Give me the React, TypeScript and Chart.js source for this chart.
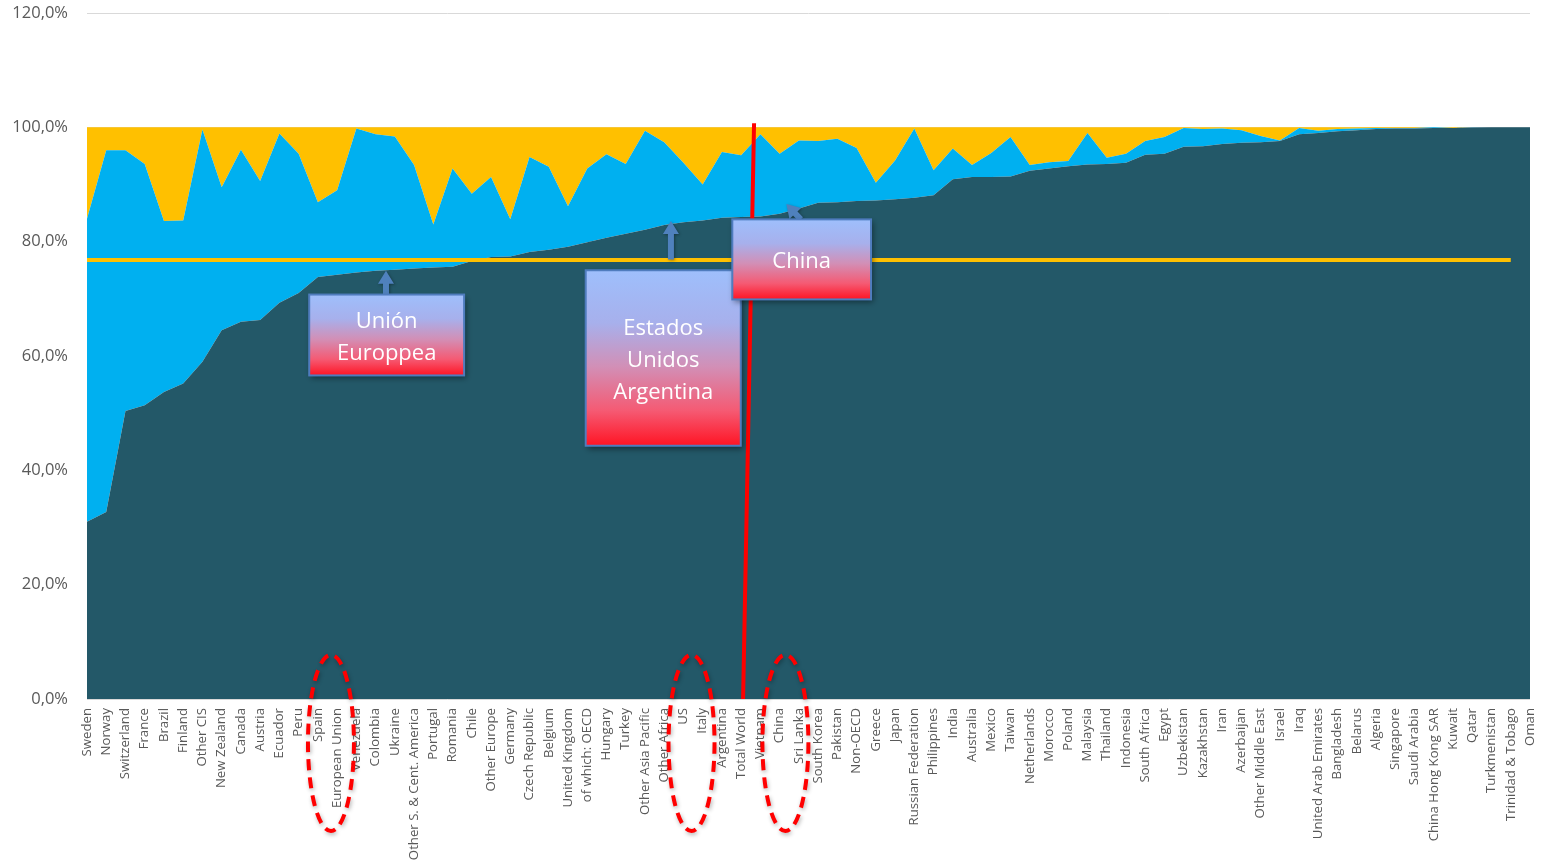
import React, { useEffect, useRef } from "react";
import { Chart, registerables } from "chart.js";

Chart.register(...registerables);

// Countries and regions, ordered by the share of the bottom series
const categories = [
  "Sweden", "Norway", "Switzerland", "France", "Brazil", "Finland", "Other CIS",
  "New Zealand", "Canada", "Austria", "Ecuador", "Peru", "Spain", "European Union",
  "Venezuela", "Colombia", "Ukraine", "Other S. & Cent. America", "Portugal", "Romania",
  "Chile", "Other Europe", "Germany", "Czech Republic", "Belgium", "United Kingdom",
  "of which: OECD", "Hungary", "Turkey", "Other Asia Pacific", "Other Africa", "US",
  "Italy", "Argentina", "Total World", "Vietnam", "China", "Sri Lanka", "South Korea",
  "Pakistan", "Non-OECD", "Greece", "Japan", "Russian Federation", "Philippines",
  "India", "Australia", "Mexico", "Taiwan", "Netherlands", "Morocco", "Poland",
  "Malaysia", "Thailand", "Indonesia", "South Africa", "Egypt", "Uzbekistan",
  "Kazakhstan", "Iran", "Azerbaijan", "Other Middle East", "Israel", "Iraq",
  "United Arab Emirates", "Bangladesh", "Belarus", "Algeria", "Singapore",
  "Saudi Arabia", "China Hong Kong SAR", "Kuwait", "Qatar", "Turkmenistan",
  "Trinidad & Tobago", "Oman",
];

// Bottom series (dark teal), % of total
const seriesBottom = [
  31.0, 32.7, 50.4, 51.4, 53.7, 55.2, 59.0, 64.5, 66.0, 66.3, 69.3, 71.0, 73.8, 74.2,
  74.6, 74.9, 75.1, 75.3, 75.5, 75.6, 76.6, 77.3, 77.4, 78.2, 78.6, 79.1, 79.9, 80.7,
  81.4, 82.1, 82.9, 83.4, 83.7, 84.2, 84.3, 84.4, 84.9, 85.8, 86.8, 86.9, 87.1, 87.2,
  87.4, 87.7, 88.1, 90.9, 91.3, 91.3, 91.4, 92.4, 92.8, 93.2, 93.5, 93.6, 93.8, 95.2,
  95.4, 96.6, 96.7, 97.1, 97.3, 97.4, 97.6, 98.8, 99.0, 99.3, 99.5, 99.7, 99.8, 99.8,
  99.9, 99.9, 99.95, 100.0, 100.0, 100.0,
];

// Middle series (light blue), % of total
const seriesMiddle = [
  53.0, 63.3, 45.6, 42.2, 29.9, 28.5, 40.6, 25.0, 30.1, 24.3, 29.6, 24.4, 13.1, 14.8,
  25.2, 23.9, 23.3, 18.1, 7.5, 17.2, 11.8, 14.0, 6.5, 16.6, 14.5, 7.1, 12.9, 14.6,
  12.2, 17.3, 14.5, 10.4, 6.3, 11.5, 10.8, 14.4, 10.5, 11.9, 10.8, 11.1, 9.3, 3.1,
  6.8, 12.1, 4.4, 5.4, 2.1, 4.2, 6.9, 1.0, 1.1, 0.9, 5.5, 1.1, 1.6, 2.4,
  2.9, 3.3, 3.0, 2.7, 2.2, 1.1, 0.1, 1.1, 0.4, 0.4, 0.3, 0.2, 0.1, 0.1,
  0.1, 0.0, 0.05, 0.0, 0.0, 0.0,
];

// Top series (yellow), % of total
const seriesTop = [
  16.0, 4.0, 4.0, 6.4, 16.4, 16.3, 0.4, 10.5, 3.9, 9.4, 1.1, 4.6, 13.1, 11.0,
  0.2, 1.2, 1.6, 6.6, 17.0, 7.2, 11.6, 8.7, 16.1, 5.2, 6.9, 13.8, 7.2, 4.7,
  6.4, 0.6, 2.6, 6.2, 10.0, 4.3, 4.9, 1.2, 4.6, 2.3, 2.4, 2.0, 3.6, 9.7,
  5.8, 0.2, 7.5, 3.7, 6.6, 4.5, 1.7, 6.6, 6.1, 5.9, 1.0, 5.3, 4.6, 2.4,
  1.7, 0.1, 0.3, 0.2, 0.5, 1.5, 2.3, 0.1, 0.6, 0.3, 0.2, 0.1, 0.1, 0.1,
  0.0, 0.1, 0.0, 0.0, 0.0, 0.0,
];

// Reference level drawn as a horizontal line (%), up to the second-to-last category
const referenceLevel = 76.8;

const yTicks = [0, 20, 40, 60, 80, 100, 120];

const COLOR_BOTTOM = "#235868";
const COLOR_MIDDLE = "#00B0F0";
const COLOR_TOP = "#FFC000";
const ARROW_BLUE = "#4F81BD";
const LABEL_GREY = "#595959";
const FONT = '"Open Sans", "DejaVu Sans", sans-serif';

type Pt = { i: number; v: number };

const callouts: { from: Pt; to: Pt; lines: string[] }[] = [
  { from: { i: 11.55, v: 70.75 }, to: { i: 19.6, v: 56.6 }, lines: ["Unión", "Europpea"] },
  { from: { i: 25.92, v: 75.0 }, to: { i: 33.98, v: 44.3 }, lines: ["Estados", "Unidos", "Argentina"] },
  { from: { i: 33.54, v: 83.9 }, to: { i: 40.75, v: 69.9 }, lines: ["China"] },
];

const arrows: { base: Pt; tip: Pt }[] = [
  { base: { i: 15.54, v: 70.75 }, tip: { i: 15.54, v: 74.9 } },
  { base: { i: 30.35, v: 76.9 }, tip: { i: 30.35, v: 83.6 } },
  { base: { i: 37.1, v: 83.9 }, tip: { i: 36.35, v: 86.6 } },
];

// Vertical marker near the "Total World" category
const markerLine = { bottom: { i: 34.1, v: 0 }, top: { i: 34.67, v: 100.7 } };

// Dashed rings around groups of axis labels (centre index)
const labelRings = [12.68, 31.42, 36.3];

function drawArrow(ctx: CanvasRenderingContext2D, x1: number, y1: number, x2: number, y2: number) {
  const ang = Math.atan2(y2 - y1, x2 - x1);
  const len = Math.hypot(x2 - x1, y2 - y1);
  const head = Math.min(13, len);
  const shaftEnd = len - head;
  ctx.save();
  ctx.translate(x1, y1);
  ctx.rotate(ang);
  ctx.shadowColor = "rgba(0,0,0,0.35)";
  ctx.shadowBlur = 3;
  ctx.shadowOffsetX = 1;
  ctx.shadowOffsetY = 1;
  ctx.fillStyle = ARROW_BLUE;
  ctx.beginPath();
  if (shaftEnd > 0) {
    ctx.rect(0, -3, shaftEnd + 1, 6);
  }
  ctx.moveTo(shaftEnd, -8);
  ctx.lineTo(len, 0);
  ctx.lineTo(shaftEnd, 8);
  ctx.closePath();
  ctx.fill();
  ctx.restore();
}

const overlayPlugin = {
  id: "overlay",
  afterDatasetsDraw(chart: any) {
    const ctx: CanvasRenderingContext2D = chart.ctx;
    const xs = chart.scales.x;
    const ys = chart.scales.y;
    const px = (p: Pt) => [xs.getPixelForValue(p.i), ys.getPixelForValue(p.v)];

    // red vertical marker
    const [bx, by] = px(markerLine.bottom);
    const [tx, ty] = px(markerLine.top);
    ctx.save();
    ctx.strokeStyle = "#FF0000";
    ctx.lineWidth = 4;
    ctx.beginPath();
    ctx.moveTo(bx, by);
    ctx.lineTo(tx, ty);
    ctx.stroke();
    ctx.restore();

    // arrows
    arrows.forEach((a) => {
      const [x1, y1] = px(a.base);
      const [x2, y2] = px(a.tip);
      drawArrow(ctx, x1, y1, x2, y2);
    });

    // callout boxes
    callouts.forEach((c) => {
      const [x1, y1] = px(c.from);
      const [x2, y2] = px(c.to);
      ctx.save();
      const g = ctx.createLinearGradient(0, y1, 0, y2);
      g.addColorStop(0, "#9EBFFC");
      g.addColorStop(0.3, "#A7B0EC");
      g.addColorStop(0.55, "#D28FB6");
      g.addColorStop(0.8, "#F55A73");
      g.addColorStop(1, "#FF1424");
      ctx.shadowColor = "rgba(0,0,0,0.45)";
      ctx.shadowBlur = 6;
      ctx.shadowOffsetX = 2;
      ctx.shadowOffsetY = 3;
      ctx.fillStyle = g;
      ctx.fillRect(x1, y1, x2 - x1, y2 - y1);
      ctx.shadowColor = "transparent";
      ctx.strokeStyle = "#4F7CBE";
      ctx.lineWidth = 2;
      ctx.strokeRect(x1, y1, x2 - x1, y2 - y1);
      ctx.fillStyle = "#FFFFFF";
      ctx.font = `22px ${FONT}`;
      ctx.textAlign = "center";
      ctx.textBaseline = "middle";
      const cx = (x1 + x2) / 2;
      const cy = (y1 + y2) / 2 + 2.5;
      const lh = 32;
      c.lines.forEach((t, k) => {
        ctx.fillText(t, cx, cy + (k - (c.lines.length - 1) / 2) * lh);
      });
      ctx.restore();
    });

    // dashed rings around axis labels
    const area = chart.chartArea;
    labelRings.forEach((i) => {
      const cx = xs.getPixelForValue(i);
      const cy = area.bottom + 44;
      ctx.save();
      ctx.shadowColor = "rgba(0,0,0,0.3)";
      ctx.shadowBlur = 4;
      ctx.shadowOffsetX = 1;
      ctx.shadowOffsetY = 2;
      ctx.strokeStyle = "#FF0000";
      ctx.lineWidth = 4;
      ctx.setLineDash([11, 7]);
      ctx.beginPath();
      ctx.ellipse(cx, cy, 23, 88, 0, 0, Math.PI * 2);
      ctx.stroke();
      ctx.restore();
    });
  },
};

export default function App() {
  const canvasRef = useRef<HTMLCanvasElement | null>(null);

  useEffect(() => {
    const canvas = canvasRef.current;
    if (!canvas) return;

    const referenceLine = categories.map((_, i) => (i < categories.length - 1 ? referenceLevel : null));

    const areaStyle = (color: string) => ({
      backgroundColor: color,
      borderColor: "rgba(0,0,0,0)",
      borderWidth: 0,
      pointRadius: 0,
      pointHoverRadius: 0,
      tension: 0,
      stack: "share",
    });

    const chart = new Chart(canvas, {
      type: "line",
      data: {
        labels: categories,
        datasets: [
          {
            label: "Nivel de referencia",
            data: referenceLine,
            borderColor: COLOR_TOP,
            borderWidth: 4,
            pointRadius: 0,
            fill: false,
            stack: "ref",
            order: -1,
          } as any,
          { label: "Serie 1", data: seriesBottom, fill: "origin", order: 1, ...areaStyle(COLOR_BOTTOM) },
          { label: "Serie 2", data: seriesMiddle, fill: "-1", order: 2, ...areaStyle(COLOR_MIDDLE) },
          { label: "Serie 3", data: seriesTop, fill: "-1", order: 3, ...areaStyle(COLOR_TOP) },
        ],
      },
      options: {
        animation: false,
        responsive: false,
        maintainAspectRatio: false,
        layout: { padding: { top: 13, right: 13, left: 0, bottom: 0 } },
        plugins: {
          legend: { display: false },
          tooltip: { enabled: false },
        },
        scales: {
          x: {
            type: "category",
            offset: false,
            grid: { display: false, drawTicks: false },
            border: { display: false },
            ticks: {
              autoSkip: false,
              maxRotation: 90,
              minRotation: 90,
              padding: 9,
              color: LABEL_GREY,
              font: { family: FONT, size: 13.2 },
            },
            afterFit: (s: any) => {
              s.height = 163;
              s.paddingLeft = 0;
              s.paddingRight = 0;
            },
          },
          y: {
            stacked: true,
            min: 0,
            max: 120,
            afterBuildTicks: (s: any) => {
              s.ticks = yTicks.map((v) => ({ value: v }));
            },
            grid: { color: "#D9D9D9", lineWidth: 1, drawTicks: false },
            border: { display: false },
            ticks: {
              padding: 19,
              color: LABEL_GREY,
              font: { family: FONT, size: 16.5 },
              callback: (v: any) => `${Number(v).toFixed(1).replace(".", ",")}%`,
            },
            afterFit: (s: any) => {
              s.width = 87;
              s.paddingTop = 0;
              s.paddingBottom = 0;
            },
          },
        },
      },
      plugins: [overlayPlugin],
    });

    return () => chart.destroy();
  }, []);

  return (
    <div style={{ position: "absolute", left: 0, top: 0, width: 1543, height: 862, background: "#fff" }}>
      <canvas ref={canvasRef} width={1543} height={862} style={{ width: 1543, height: 862, display: "block" }} />
    </div>
  );
}
